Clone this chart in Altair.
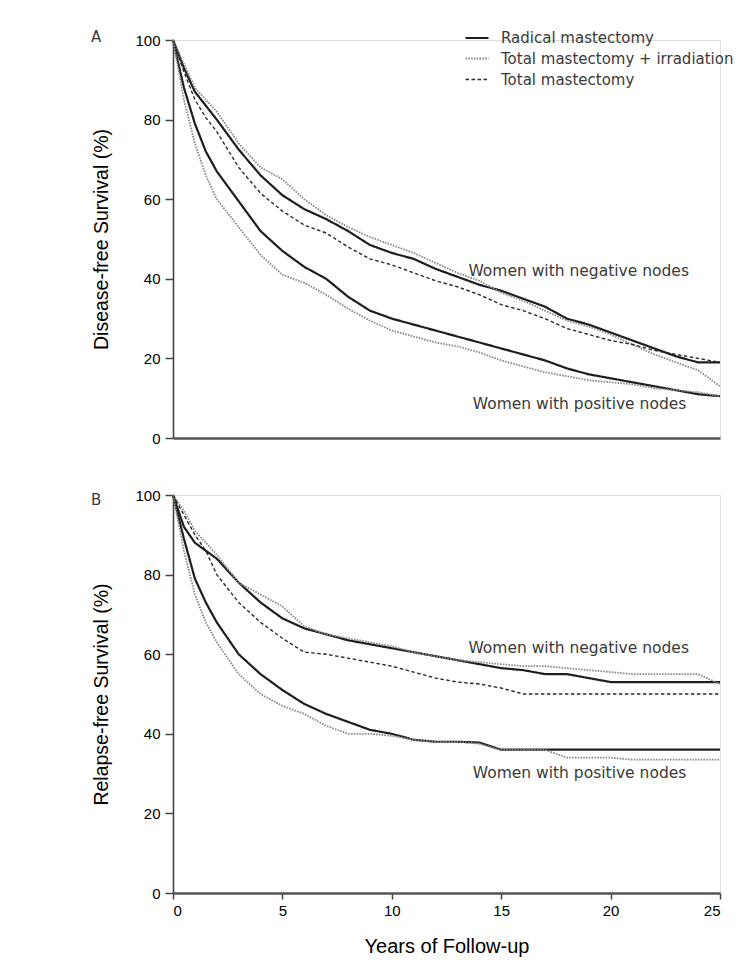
import altair as alt
import pandas as pd

YEARS = [0, 0.5, 1, 1.5, 2, 3, 4, 5, 6, 7, 8, 9, 10, 11, 12, 13, 14, 15, 16, 17, 18, 19, 20, 21, 22, 23, 24, 25]

SERIES = ["Radical mastectomy", "Total mastectomy + irradiation", "Total mastectomy"]

# Panel A: disease-free survival (%)
a_neg_rm = [100, 93, 87, 83.5, 80, 72.5, 66, 61, 57.5, 55, 52, 48.5, 46.5, 45, 42.5, 40.5, 38.5, 37, 35, 33, 30, 28.5, 26.5, 24.5, 22.5, 20.5, 19, 19]
a_neg_tmi = [100, 94, 88, 85, 82, 74, 68, 65, 60, 56, 53, 50.5, 48.5, 46.5, 44, 41.5, 39.5, 36.5, 34.5, 32, 29.5, 28, 26, 23.5, 21, 19, 17, 13]
a_neg_tm = [100, 92, 85, 80.5, 77, 68, 61.5, 57, 53.5, 51.5, 48, 45, 43.5, 41.5, 39.5, 38, 36, 33.5, 32, 30, 27.5, 26, 24.5, 23.5, 22, 21, 20, 19]
a_pos_rm = [100, 88, 79, 72, 67, 59.5, 52, 47, 43, 40, 35.5, 32, 30, 28.5, 27, 25.5, 24, 22.5, 21, 19.5, 17.5, 16, 15, 14, 13, 12, 11, 10.5]
a_pos_tmi = [100, 85, 74, 66, 60, 53, 46, 41, 39, 36, 32.5, 29.5, 27, 25.5, 24, 23, 21.5, 19.5, 18, 16.5, 15.5, 14.5, 14, 13.5, 12.5, 12, 11.5, 10.5]

# Panel B: relapse-free survival (%)
b_neg_rm = [100, 92, 88, 86, 84, 78, 73, 69, 66.5, 65, 63.5, 62.5, 61.5, 60.5, 59.5, 58.5, 57.5, 56.5, 56, 55, 55, 54, 53, 53, 53, 53, 53, 53]
b_neg_tmi = [100, 96, 91, 88, 85, 78, 75, 72, 67, 65, 64, 63, 62, 60.5, 59.5, 58.5, 58, 57.5, 57, 57, 56.5, 56, 55.5, 55, 55, 55, 55, 52.5]
b_neg_tm = [100, 95, 90, 86, 80, 73, 68, 64, 60.5, 60, 59, 58, 57, 55.5, 54, 53, 52.5, 51.5, 50, 50, 50, 50, 50, 50, 50, 50, 50, 50]
b_pos_rm = [100, 89, 79, 73, 68, 60, 55, 51, 47.5, 45, 43, 41, 40, 38.5, 38, 38, 37.8, 36, 36, 36, 36, 36, 36, 36, 36, 36, 36, 36]
b_pos_tmi = [100, 86, 75, 68, 63, 55, 50, 47, 45, 42, 40, 40, 39.5, 38.5, 38, 38, 37.5, 36, 36, 36, 34, 34, 34, 33.5, 33.5, 33.5, 33.5, 33.5]

# Annotation labels: (panel, text, year, value)
ANNOT = [
    ("A", "Women with negative nodes", 13.5, 42),
    ("A", "Women with positive nodes", 13.7, 8.5),
    ("B", "Women with negative nodes", 13.5, 61.5),
    ("B", "Women with positive nodes", 13.7, 30.2),
]


def frame(panel, pairs):
    rows = []
    for series, nodes, vals in pairs:
        for yr, v in zip(YEARS, vals):
            rows.append({"panel": panel, "series": series, "nodes": nodes,
                         "key": series + "|" + nodes, "year": yr, "value": v})
    return pd.DataFrame(rows)


df_a = frame("A", [
    (SERIES[0], "neg", a_neg_rm), (SERIES[1], "neg", a_neg_tmi), (SERIES[2], "neg", a_neg_tm),
    (SERIES[0], "pos", a_pos_rm), (SERIES[1], "pos", a_pos_tmi),
])
df_b = frame("B", [
    (SERIES[0], "neg", b_neg_rm), (SERIES[1], "neg", b_neg_tmi), (SERIES[2], "neg", b_neg_tm),
    (SERIES[0], "pos", b_pos_rm), (SERIES[1], "pos", b_pos_tmi),
])
ann = pd.DataFrame(ANNOT, columns=["panel", "text", "year", "value"])

FONT = "DejaVu Sans"
TXT = "#3a3a3a"
W, H = 547, 398

color_scale = alt.Scale(domain=SERIES, range=["#1e1e1e", "#8a8a8a", "#2a2a2a"])
dash_scale = alt.Scale(domain=SERIES, range=[[1, 0], [1.6, 1.2], [3.5, 2.5]])
width_scale = alt.Scale(domain=SERIES, range=[2.2, 1.4, 1.8])

yvals = list(range(0, 101, 10))
ylabel_expr = "datum.value % 20 == 0 ? datum.label : ''"


def panel(df, letter, ytitle, show_x, show_legend):
    if show_legend:
        leg = alt.Legend(title=None, orient="none", legendX=291, legendY=-15,
                         symbolType="stroke", symbolSize=529, labelFont=FONT,
                         labelFontSize=15, labelColor=TXT, rowPadding=0,
                         labelOffset=11, labelLimit=400, symbolStrokeColor="#222")
    else:
        leg = None
    xaxis = alt.Axis(values=[0, 5, 10, 15, 20, 25], title="Years of Follow-up" if show_x else None,
                     labels=show_x, ticks=show_x, grid=False, tickSize=6, tickWidth=1.5,
                     labelFontSize=15, titleFontSize=20, labelPadding=4, titlePadding=18,
                     titleFontWeight="normal", domainWidth=2.5, domainColor="#555",
                     tickColor="#444")
    yaxis = alt.Axis(values=yvals, labelExpr=ylabel_expr, title=ytitle, grid=False,
                     tickSize=8, tickWidth=1.5, labelFontSize=15, titleFontSize=19.5,
                     titleFontWeight="normal", titlePadding=23, labelPadding=5,
                     domainWidth=1.6, domainColor="#444", tickColor="#444")
    x = alt.X("year:Q", scale=alt.Scale(domain=[0, 25], nice=False), axis=xaxis)
    y = alt.Y("value:Q", scale=alt.Scale(domain=[0, 100], nice=False), axis=yaxis)
    lines = alt.Chart(df).mark_line(interpolate="linear").encode(
        x=x, y=y,
        color=alt.Color("series:N", scale=color_scale, legend=leg, sort=SERIES),
        strokeDash=alt.StrokeDash("series:N", scale=dash_scale, legend=leg, sort=SERIES),
        strokeWidth=alt.StrokeWidth("series:N", scale=width_scale, legend=leg, sort=SERIES),
        detail="key:N",
    )
    labels = alt.Chart(ann[ann.panel == letter]).mark_text(
        align="left", baseline="middle", font=FONT, fontSize=15.5, color=TXT
    ).encode(x="year:Q", y="value:Q", text="text:N")
    return alt.layer(lines, labels).properties(
        width=W, height=H,
        title=alt.TitleParams(letter, anchor="start", frame="group", dx=-82, dy=20, offset=0,
                              fontSize=15, font=FONT, color=TXT, fontWeight="normal"),
    )


pa = panel(df_a, "A", "Disease-free Survival (%)", False, True)
pb = panel(df_b, "B", "Relapse-free Survival (%)", True, False)

chart = alt.vconcat(pa, pb, spacing=40).resolve_legend(
    color="independent", strokeDash="independent", strokeWidth="independent"
).properties(
    padding={"left": 82, "top": 16, "right": 0, "bottom": 0}
).configure_view(stroke=None).configure_axis(
    labelFont=FONT, titleFont=FONT, labelColor=TXT, titleColor=TXT
).configure(background="white")

chart.save("out.html", embed_options={"renderer": "svg", "actions": False})
